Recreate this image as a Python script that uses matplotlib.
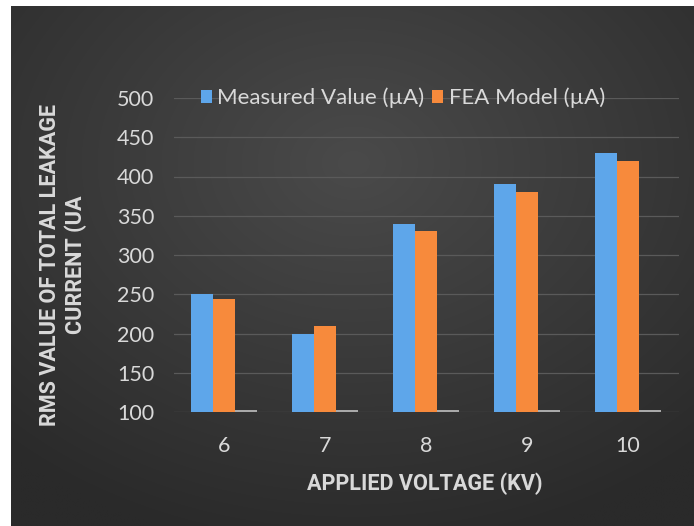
import numpy as np
import matplotlib
matplotlib.use("Agg")
import matplotlib.pyplot as plt
from matplotlib.patches import Patch

# Data
voltages = ["6", "7", "8", "9", "10"]
measured = [250, 200, 340, 390, 430]
fea_model = [244, 210, 330, 380, 420]
third_series = [102, 102, 102, 102, 102]
y_ticks = [100, 150, 200, 250, 300, 350, 400, 450, 500]

FONT = ["Lato", "DejaVu Sans"]
TITLE_FONT = ["Roboto", "DejaVu Sans"]
TEXT_COL = "#d9d9d9"
BLUE = "#5ea6ea"
ORANGE = "#f78a3c"
GRAY = "#a9a9a9"

W, H = 694, 526
fig = plt.figure(figsize=(W / 100, H / 100), dpi=100)
fig.patch.set_facecolor("white")

# Dark panel with soft radial gradient
bg = fig.add_axes([11 / W, 0, 1 - 11 / W, 1 - 6 / H])
ny, nx = 200, 260
yy, xx = np.mgrid[0:ny, 0:nx]
cx, cy = nx * 0.5, ny * 0.3
r = np.sqrt(((xx - cx) / nx) ** 2 + ((yy - cy) / ny) ** 2)
r = np.clip(r / 0.75, 0, 1)
c_in = np.array([0x4a, 0x4a, 0x4a]) / 255
c_out = np.array([0x2a, 0x2a, 0x2a]) / 255
img = c_in[None, None, :] * (1 - r[..., None]) + c_out[None, None, :] * r[..., None]
bg.imshow(img, aspect="auto", extent=[0, 1, 0, 1], interpolation="bilinear")
bg.set_axis_off()

# Plot area
left_px, right_px = 173.5, 678.5
top_px, bot_px = 98, 412
ax = fig.add_axes([left_px / W, 1 - bot_px / H, (right_px - left_px) / W, (bot_px - top_px) / H])
ax.patch.set_alpha(0)

x = np.arange(len(voltages))
bw = 0.218
ax.bar(x - bw, [m - 100 for m in measured], bw, bottom=100, color=BLUE, zorder=3)
ax.bar(x, [f - 100 for f in fea_model], bw, bottom=100, color=ORANGE, zorder=3)
ax.bar(x + bw, [t - 100 for t in third_series], bw, bottom=100, color=GRAY, zorder=3)

ax.set_xlim(-0.5, len(voltages) - 0.5)
ax.set_ylim(100, 500)
ax.set_yticks(y_ticks)
ax.set_xticks(x)
ax.set_xticklabels(voltages)
ax.grid(axis="y", color="#5a5a5a", linewidth=0.9, zorder=0)
for s in ax.spines.values():
    s.set_visible(False)
ax.tick_params(axis="both", length=0, colors=TEXT_COL, labelsize=15.5)
ax.tick_params(axis="y", pad=14)
ax.tick_params(axis="x", pad=17)
for lbl in ax.get_xticklabels() + ax.get_yticklabels():
    lbl.set_family(FONT)

# Axis titles
fig.text(425 / W, 1 - 484 / H, "APPLIED VOLTAGE (KV)", ha="center", va="center",
         fontsize=15.6, fontweight="bold", color=TEXT_COL, family=TITLE_FONT)
fig.text(63 / W, 1 - 265 / H, "RMS VALUE OF TOTAL LEAKAGE\nCURRENT (UA", ha="center", va="center",
         rotation=90, fontsize=15.6, fontweight="bold", color=TEXT_COL, family=TITLE_FONT,
         linespacing=1.15)

# Legend
handles = [Patch(facecolor=BLUE), Patch(facecolor=ORANGE)]
leg = fig.legend(handles, ["Measured Value (µA)", "FEA Model (µA)"],
                 loc="center", bbox_to_anchor=(403 / W, 1 - 98 / H), ncol=2,
                 frameon=False, handlelength=0.5, handleheight=0.5,
                 handletextpad=0.25, columnspacing=0.35,
                 prop={"family": FONT, "size": 16})
for t in leg.get_texts():
    t.set_color(TEXT_COL)

fig.savefig("out.png", dpi=100)
